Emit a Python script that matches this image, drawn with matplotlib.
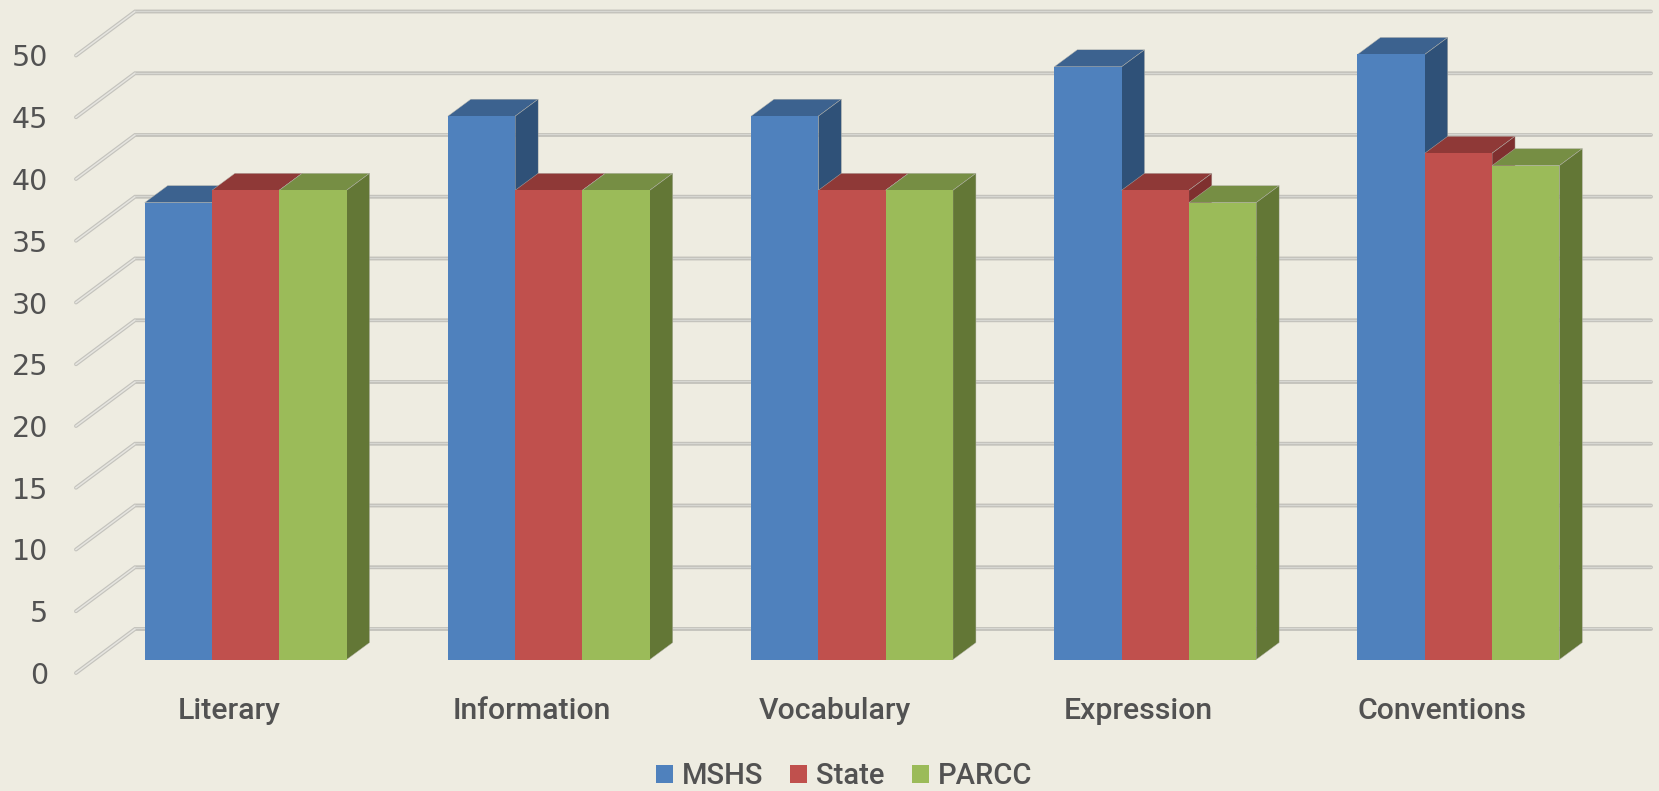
import matplotlib
matplotlib.use("Agg")
import matplotlib.pyplot as plt
from matplotlib.patches import Polygon
import numpy as np

categories = ["Literary", "Information", "Vocabulary", "Expression", "Conventions"]
mshs = [37, 44, 44, 48, 49]
state = [38, 38, 38, 38, 41]
parcc = [38, 38, 38, 37, 40]
y_ticks = [0, 5, 10, 15, 20, 25, 30, 35, 40, 45, 50]

W, H = 1659, 791
BG = "#EEECE1"
TXT = "#525252"
plt.rcParams["font.family"] = ["Roboto", "DejaVu Sans"]

fig = plt.figure(figsize=(W / 100, H / 100), dpi=100, facecolor=BG)
L, R, Y0, Y50 = 76, 1592, 673, 55.5
ax = fig.add_axes([L / W, 1 - Y0 / H, (R - L) / W, (Y0 - Y50) / H], facecolor="none")
ax.set_xlim(-0.5, 4.5)
ax.set_ylim(0, 50)
px_x = 5 / (R - L)
px_y = 50 / (Y0 - Y50)

# walls: gridlines run from the front edge to the back wall
wall_dx, wall_dy = 59 * px_x, 44 * px_y
for v in y_ticks:
    xs = [-0.5, -0.5 + wall_dx, 4.5 + wall_dx]
    ys = [v, v + wall_dy, v + wall_dy]
    ax.plot(xs, ys, color="#C4C3BD", lw=2.8, clip_on=False, zorder=1,
            solid_capstyle="round", solid_joinstyle="miter")
    ax.plot(xs[:2], ys[:2], color="#E6E5E0", lw=1.1, clip_on=False, zorder=1.1)
    ax.plot(xs[1:], [ys[1] + 0.05] * 2, color="#D8D8D3", lw=0.7, clip_on=False, zorder=1.1)

# bars stand part way back on the floor
off_dx, off_dy = 18 * px_x, 13.4 * px_y
dep_dx, dep_dy = 23 * px_x, 17 * px_y
bw = 67.3 * px_x
series = [
    ("MSHS", mshs, "#4F81BD", "#3C628F", "#2F5178"),
    ("State", state, "#C0504D", "#8F3937", "#7F302F"),
    ("PARCC", parcc, "#9BBB59", "#768E44", "#637736"),
]
edge = "#B5B4AC"
handles = []
for s, (name, vals, front, top, side) in enumerate(series):
    z = 3 + s
    xc = np.arange(len(categories)) + (s - 1) * bw + off_dx
    for x, v in zip(xc, vals):
        xl, xr = x - bw / 2, x + bw / 2
        yt = v + off_dy
        ax.add_patch(Polygon([(xl, yt), (xr, yt), (xr + dep_dx, yt + dep_dy), (xl + dep_dx, yt + dep_dy)],
                             closed=True, fc=top, ec=edge, lw=0.3, zorder=z, clip_on=False))
        ax.add_patch(Polygon([(xr, off_dy), (xr + dep_dx, off_dy + dep_dy), (xr + dep_dx, yt + dep_dy), (xr, yt)],
                             closed=True, fc=side, ec=edge, lw=0.3, zorder=z, clip_on=False))
    b = ax.bar(xc, vals, width=bw, bottom=off_dy, color=front, edgecolor="none",
               zorder=z + 0.5, clip_on=False, label=name)
    handles.append(b)

ax.set_yticks(y_ticks)
ax.set_xticks(np.arange(len(categories)) + 1.2 * px_x)
ax.set_xticklabels(categories, fontsize=21.8, color=TXT, fontweight="medium")
ax.tick_params(axis="x", length=0, pad=17)
ax.tick_params(axis="y", length=0, pad=20)
for t in ax.get_yticklabels():
    t.set_family("DejaVu Sans")
    t.set_fontsize(20.5)
    t.set_color(TXT)
for sp in ax.spines.values():
    sp.set_visible(False)

fs = 21
fpx = fs * 100 / 72
leg = fig.legend(handles=handles, labels=[h.get_label() for h in handles], loc="center",
                 bbox_to_anchor=(844 / W, 1 - 776 / H), ncol=3, frameon=False,
                 fontsize=fs, labelcolor=TXT, handlelength=17 / fpx, handleheight=17 / fpx,
                 handletextpad=9 / fpx, columnspacing=27 / fpx, borderpad=0, labelspacing=0)
for t in leg.get_texts():
    t.set_fontweight("medium")
for h in leg.legend_handles:
    h.set_edgecolor("none")

fig.savefig("out.png", dpi=100, facecolor=BG)
